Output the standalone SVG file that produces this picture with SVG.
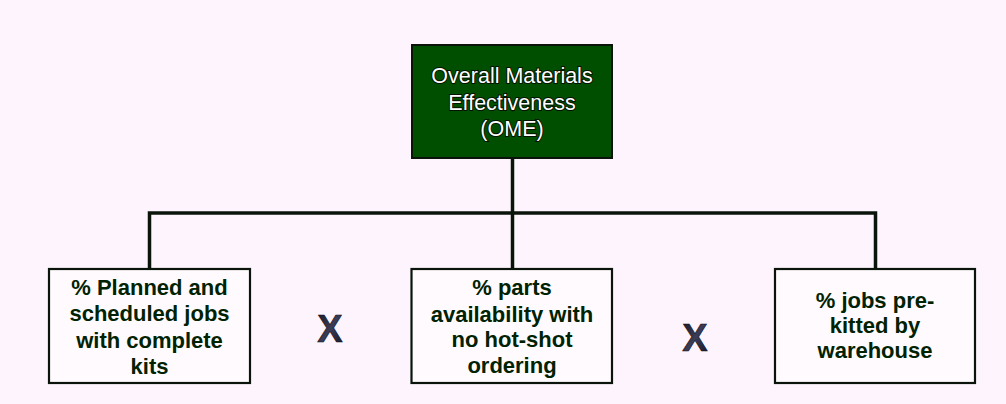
<svg xmlns="http://www.w3.org/2000/svg" width="1006" height="404" viewBox="0 0 1006 404">
<defs>
<linearGradient id="xg" x1="0" y1="0" x2="1" y2="1">
<stop offset="0" stop-color="#141420"/>
<stop offset="0.5" stop-color="#3c3c56"/>
<stop offset="1" stop-color="#141420"/>
</linearGradient>
<style>
.bg{fill:#fdf4fd}
.top{fill:#004f00;stroke:#0a140a;stroke-width:2}
.leaf{fill:#fffafe;stroke:#0a140a;stroke-width:2.2}
.conn{fill:none;stroke:#0a140a;stroke-width:3.5;stroke-linejoin:miter}
.tt{font-family:"Liberation Sans",Arial,sans-serif;font-size:21.5px;fill:#ffffff;stroke:#001400;stroke-width:2;paint-order:stroke;text-anchor:middle}
.lt{font-family:"Liberation Sans",Arial,sans-serif;font-size:22px;font-weight:bold;fill:#002200;text-anchor:middle}
.x{font-family:"Liberation Sans",Arial,sans-serif;font-size:38px;font-weight:bold;fill:url(#xg);stroke:#10101a;stroke-width:0.6;text-anchor:middle}
</style>
</defs>
<rect class="bg" x="0" y="0" width="1006" height="404"/>
<g id="connectors">
<line class="conn" x1="512.5" y1="158" x2="512.5" y2="269"/>
<polyline class="conn" points="149.5,269 149.5,213 875.5,213 875.5,269"/>
</g>
<g id="ome">
<rect class="top" x="412" y="45" width="200" height="113"/>
<text class="tt" x="512" y="83">Overall Materials</text>
<text class="tt" x="512" y="110">Effectiveness</text>
<text class="tt" x="512" y="136">(OME)</text>
</g>
<g id="planned">
<rect class="leaf" x="49" y="269" width="201" height="114"/>
<text class="lt" x="149.5" y="295">% Planned and</text>
<text class="lt" x="149.5" y="321">scheduled jobs</text>
<text class="lt" x="149.5" y="347.5">with complete</text>
<text class="lt" x="149.5" y="374">kits</text>
</g>
<g id="parts">
<rect class="leaf" x="411.5" y="269" width="200.5" height="114"/>
<text class="lt" x="512" y="295">% parts</text>
<text class="lt" x="512" y="321.5">availability with</text>
<text class="lt" x="512" y="347">no hot-shot</text>
<text class="lt" x="512" y="373">ordering</text>
</g>
<g id="prekitted">
<rect class="leaf" x="775" y="269" width="200" height="114"/>
<text class="lt" x="875" y="307.5">% jobs pre-</text>
<text class="lt" x="875" y="333">kitted by</text>
<text class="lt" x="875" y="357.5">warehouse</text>
</g>
<g id="times">
<text class="x" x="330" y="341.5">X</text>
<text class="x" x="695" y="350.5">X</text>
</g>
</svg>
